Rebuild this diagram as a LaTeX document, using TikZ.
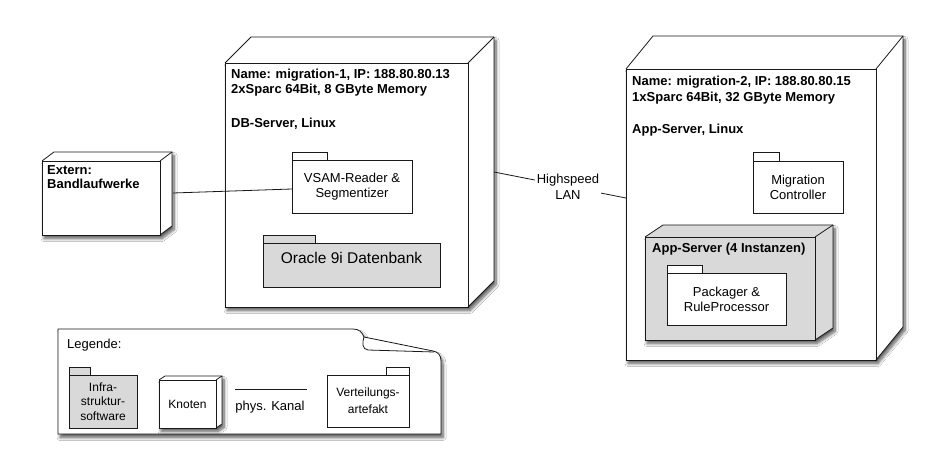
\documentclass[tikz,border=0pt]{standalone}
\usepackage{fontspec}
\setmainfont{Liberation Sans}
\usetikzlibrary{shadows.blur}
\definecolor{pkggray}{RGB}{217,217,217}
\definecolor{edge}{RGB}{25,25,25}
\tikzset{
  faceref/.style={inner sep=0pt, outer sep=0pt, anchor=north west},
  shadowed/.style={blur shadow={shadow xshift=2pt, shadow yshift=-3.5pt, shadow blur steps=8, shadow opacity=65, shadow blur radius=3pt}},
  pkgbox/.style={draw=edge, line width=0.8pt, inner sep=0pt, outer sep=0pt, anchor=north west, align=center, font=\fontsize{13}{15}\selectfont},
  pkgtab/.style={draw=edge, line width=0.8pt},
  hdr/.style={anchor=base west, inner sep=0pt, font=\bfseries\fontsize{13}{15}\selectfont},
  plain/.style={inner sep=0pt, align=center, font=\fontsize{13}{16}\selectfont},
  small/.style={inner sep=0pt, align=center, font=\fontsize{12}{14.5}\selectfont},
  wire/.style={draw=edge, line width=0.8pt},
}
\newcommand\cubeshape[4]{%
  \fill[#4, shadowed] (#1.south west) -- (#1.north west) -- ++(#2,#3) -- ([shift={(#2,#3)}]#1.north east) -- ([shift={(#2,#3)}]#1.south east) -- (#1.south east) -- cycle;
  \draw[edge, line width=0.8pt, line join=miter] (#1.north west) -- ++(#2,#3) -- ([shift={(#2,#3)}]#1.north east) -- ([shift={(#2,#3)}]#1.south east) -- (#1.south east);
  \draw[edge, line width=0.8pt] (#1.north east) -- ++(#2,#3);
  \draw[edge, line width=0.8pt] (#1.south west) rectangle (#1.north east);
}
\begin{document}
\begin{tikzpicture}[x=1pt,y=-1pt]
\useasboundingbox[fill=white] (0,0) rectangle (943,454);

% ---------- DB server node ----------
\path node[faceref, minimum width=243pt, minimum height=244pt] (db) at (225,63) {};
\cubeshape{db}{26}{-26}{white}
\node[hdr] (db1) at (231,78.3) {Name: migration-1, IP: 188.80.80.13};
\node[hdr] (db2) at (231,93.8) {2xSparc 64Bit, 8 GByte Memory};
\node[hdr] (db3) at (231,127.3) {DB-Server, Linux};

\node[pkgbox, fill=white, minimum width=120pt, minimum height=53pt] (vsam) at (292,160) {VSAM-Reader \&\\Segmentizer};
\draw[pkgtab, fill=white] (vsam.north west) rectangle ++(35,-8);

\node[pkgbox, fill=pkggray, minimum width=177pt, minimum height=44pt] (ora) at (263,243) {};
\draw[pkgtab, fill=pkggray] (ora.north west) rectangle ++(52,-8);
\node[plain, font=\fontsize{15.5}{18}\selectfont] (oratext) at (351.5,258) {Oracle 9i Datenbank};

% ---------- External node ----------
\path node[faceref, minimum width=118pt, minimum height=74pt] (ext) at (42,161) {};
\cubeshape{ext}{12}{-9}{white}
\node[hdr] (ext1) at (47,174.6) {Extern:};
\node[hdr] (ext2) at (47,188.6) {Bandlaufwerke};

% ---------- App server node ----------
\path node[faceref, minimum width=250pt, minimum height=291pt] (app) at (626,69) {};
\cubeshape{app}{27}{-33}{white}
\node[hdr] (ap1) at (632,85.6) {Name: migration-2, IP: 188.80.80.15};
\node[hdr] (ap2) at (632,101.3) {1xSparc 64Bit, 32 GByte Memory};
\node[hdr] (ap3) at (632,133.3) {App-Server, Linux};

\node[pkgbox, fill=white, minimum width=90pt, minimum height=52pt] (mig) at (753,161) {Migration\\Controller};
\draw[pkgtab, fill=white] (mig.north west) rectangle ++(26,-9);

\path node[faceref, minimum width=170pt, minimum height=103pt] (inst) at (645,237) {};
\cubeshape{inst}{18}{-12}{pkggray}
\node[hdr] (insttext) at (652,252.6) {App-Server (4 Instanzen)};

\node[pkgbox, fill=white, minimum width=119pt, minimum height=52pt] (pack) at (667,273) {Packager \&\\RuleProcessor};
\draw[pkgtab, fill=white] (pack.north west) rectangle ++(35,-8);

% ---------- connectors ----------
\coordinate (extR) at (173,193);
\coordinate (vsamL) at (292,189);
\draw[wire] (extR) -- (vsamL);

\coordinate (dbR) at (494,172);
\coordinate (appL) at (626,198);
\draw[wire] (dbR) -- node[plain, pos=0.56, fill=white, inner sep=2pt] (lan) {Highspeed\\LAN} (appL);

% ---------- legend ----------
\filldraw[fill=white, draw=edge, line width=0.8pt, shadowed]
  (58,329) -- (353,329) .. controls (359,329) and (362,332) .. (364,337)
  -- (433,351) .. controls (438,352) and (441,355) .. (441,361)
  -- (441,434) -- (58,434) -- cycle;
\draw[edge, line width=0.8pt] (364,337) .. controls (362,343) and (362,349) .. (368,350) -- (434,352);
\node[anchor=base west, inner sep=0pt, font=\fontsize{13}{15}\selectfont] (leg) at (67,348.5) {Legende:};

\node[pkgbox, small, fill=pkggray, minimum width=68pt, minimum height=53pt, anchor=north west] (infra) at (69,375) {Infra-\\struktur-\\software};
\draw[pkgtab, fill=pkggray] (infra.north west) rectangle ++(21,-8);

\path node[faceref, minimum width=57pt, minimum height=48pt] (knot) at (159,380) {};
\cubeshape{knot}{6}{-4}{white}
\node[small] (knottext) at (knot.center) {Knoten};

\coordinate (k1) at (235,389);
\coordinate (k2) at (307,389);
\draw[wire] (k1) -- (k2);
\node[plain] (kanal) at (270,407) {phys. Kanal};

\node[pkgbox, fill=white, minimum width=82pt, minimum height=52pt, anchor=north west, font=\fontsize{12}{17}\selectfont] (vert) at (327,375) {Verteilungs-\\artefakt};
\draw[pkgtab, fill=white] (vert.north east) rectangle ++(-23,-8);
\end{tikzpicture}
\end{document}
